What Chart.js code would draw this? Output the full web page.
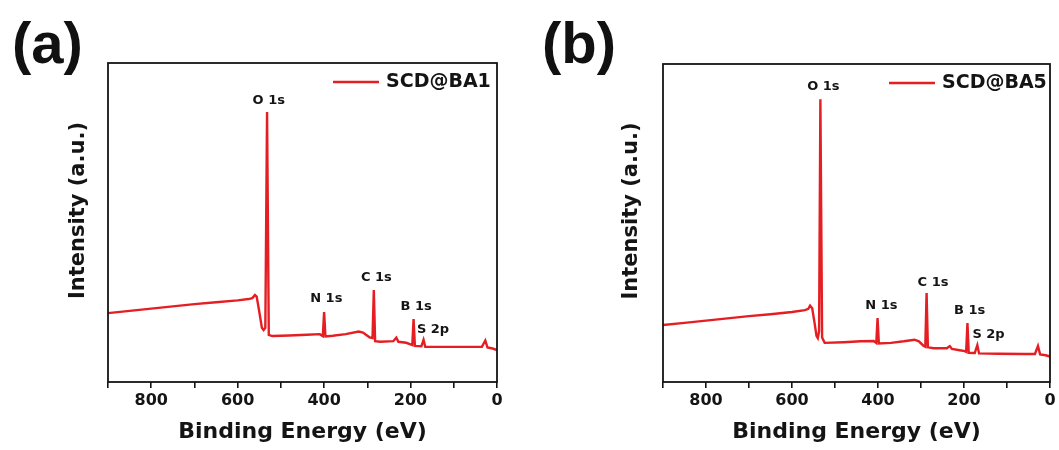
<!DOCTYPE html>
<html>
<head>
<meta charset="utf-8">
<script src="https://cdn.jsdelivr.net/npm/chart.js@4/dist/chart.umd.min.js"></script>
<style>
  html, body { margin: 0; padding: 0; background: #fff; }
  #wrap { position: relative; width: 1059px; height: 450px; }
  canvas { position: absolute; top: 0; }
  #chartA { left: 0; }
  #chartB { left: 530px; }
</style>
</head>
<body>
<div id="wrap">
  <canvas id="chartA" width="530" height="450"></canvas>
  <canvas id="chartB" width="529" height="450"></canvas>
</div>
<script>
// XPS survey spectra (binding energy in eV, intensity in a.u.)
const energyA = [900, 850, 800, 750, 700, 650, 600, 575, 566, 560, 556, 550, 544, 540, 536, 532, 528, 520, 480, 440, 410, 403, 400, 397, 380, 350, 320, 310, 295, 288, 285, 282, 270, 240, 233, 228, 210, 200, 196, 193, 190, 175, 170, 166, 120, 60, 35, 27, 22, 10, 0];
const intensityA = [21.6, 22.3, 23.0, 23.7, 24.4, 25.0, 25.6, 26.0, 26.3, 27.3, 26.8, 22.0, 17.0, 16.3, 17.0, 84.6, 14.8, 14.4, 14.6, 14.8, 15.0, 14.4, 21.9, 14.3, 14.5, 15.0, 15.8, 15.5, 14.0, 13.8, 28.8, 12.8, 12.6, 12.8, 13.9, 12.6, 12.3, 11.8, 11.6, 19.7, 11.3, 11.2, 13.2, 11.0, 11.0, 11.0, 11.0, 13.0, 10.8, 10.5, 10.0];

const energyB = [900, 850, 800, 750, 700, 650, 600, 570, 562, 558, 553, 548, 543, 540, 537, 534, 530, 524, 480, 440, 410, 404, 401, 398, 370, 340, 315, 305, 295, 290, 287, 284, 270, 240, 233, 228, 210, 198, 195, 192, 189, 175, 169, 165, 120, 60, 35, 28, 23, 10, 0];
const intensityB = [17.9, 18.6, 19.3, 20.0, 20.7, 21.3, 22.0, 22.6, 23.0, 24.0, 23.2, 19.0, 14.5, 13.8, 16.0, 88.9, 14.0, 12.3, 12.5, 12.8, 12.9, 12.3, 20.1, 12.1, 12.3, 12.8, 13.3, 12.8, 11.5, 11.1, 28.0, 10.9, 10.6, 10.6, 11.3, 10.4, 10.0, 9.7, 9.5, 18.5, 9.2, 9.1, 11.6, 9.0, 8.9, 8.8, 8.8, 11.3, 8.7, 8.4, 8.0];

// peak labels: name, label energy, label height
const peakNames = ['O 1s', 'N 1s', 'C 1s', 'B 1s', 'S 2p'];
const peakLabelEnergyA = [528, 395, 279, 187, 148];
const peakLabelHeightA = [88.1, 26.0, 32.6, 23.5, 16.5];
const peakLabelEnergyB = [527, 392, 272, 187, 143];
const peakLabelHeightB = [92.9, 24.0, 31.4, 22.4, 14.8];

const xTicks = [0, 100, 200, 300, 400, 500, 600, 700, 800, 900];

const RED = '#e41e22';
const INK = '#141414';
const FONT = '"DejaVu Sans", sans-serif';

const panelDecor = {
  id: 'panelDecor',
  afterDraw(chart, args, o) {
    const { ctx, chartArea: a } = chart;
    const x = chart.scales.x, y = chart.scales.y;
    ctx.save();

    // frame
    ctx.strokeStyle = INK;
    ctx.lineWidth = 1.8;
    ctx.strokeRect(a.left, a.top, a.right - a.left, a.bottom - a.top);

    // peak labels
    ctx.fillStyle = INK;
    ctx.font = 'bold 13px ' + FONT;
    ctx.textAlign = 'center';
    ctx.textBaseline = 'middle';
    peakNames.forEach((name, i) => {
      ctx.fillText(name, x.getPixelForValue(o.labelE[i]), y.getPixelForValue(o.labelH[i]));
    });

    // legend
    ctx.strokeStyle = RED;
    ctx.lineWidth = 2.4;
    ctx.beginPath();
    ctx.moveTo(a.left + o.legendX, a.top + 19);
    ctx.lineTo(a.left + o.legendX + 46, a.top + 19);
    ctx.stroke();
    ctx.font = 'bold 19px ' + FONT;
    ctx.textAlign = 'left';
    ctx.fillText(o.name, a.left + o.legendX + 53, a.top + 19);

    // y title
    ctx.save();
    ctx.translate(o.yTitleX, (a.top + a.bottom) / 2 - 12);
    ctx.rotate(-Math.PI / 2);
    ctx.textAlign = 'center';
    ctx.font = 'bold 21px ' + FONT;
    ctx.fillText('Intensity (a.u.)', 0, 0);
    ctx.restore();

    // panel letter
    ctx.font = 'bold 58px "Liberation Sans", Arial, sans-serif';
    ctx.textAlign = 'left';
    ctx.textBaseline = 'alphabetic';
    ctx.fillStyle = '#111';
    ctx.fillText(o.letter, 12, 63);

    ctx.restore();
  }
};

function makePanel(id, name, energy, intensity, decor, pad) {
  return new Chart(document.getElementById(id), {
    type: 'line',
    data: {
      datasets: [{
        label: name,
        data: energy.map((e, i) => ({ x: e, y: intensity[i] })),
        borderColor: RED,
        borderWidth: 2.4,
        pointRadius: 0,
        tension: 0,
        fill: false
      }]
    },
    options: {
      responsive: false,
      animation: false,
      layout: { padding: pad },
      plugins: {
        legend: { display: false },
        tooltip: { enabled: false },
        panelDecor: decor
      },
      scales: {
        x: {
          type: 'linear',
          reverse: true,
          min: 0,
          max: 900,
          afterFit: s => { s.height = 68; },
          afterBuildTicks: s => { s.ticks = xTicks.map(v => ({ value: v })); },
          border: { display: false },
          grid: { drawOnChartArea: false, drawTicks: true, tickLength: 6, lineWidth: 1.6, color: INK },
          ticks: {
            autoSkip: false,
            maxRotation: 0,
            padding: 3,
            color: INK,
            font: { family: FONT, weight: 'bold', size: 16 },
            callback: v => (v % 200 === 0 ? String(v) : '')
          },
          title: {
            display: true,
            text: 'Binding Energy (eV)',
            color: INK,
            font: { family: FONT, weight: 'bold', size: 22 },
            padding: { top: 0, bottom: 5 }
          }
        },
        y: { display: false, min: 0, max: 100 }
      }
    },
    plugins: [panelDecor]
  });
}

makePanel('chartA', 'SCD@BA1', energyA, intensityA,
  { name: 'SCD@BA1', letter: '(a)', labelE: peakLabelEnergyA, labelH: peakLabelHeightA, legendX: 225, yTitleX: 79 },
  { left: 108, right: 33, top: 63, bottom: 0 });

makePanel('chartB', 'SCD@BA5', energyB, intensityB,
  { name: 'SCD@BA5', letter: '(b)', labelE: peakLabelEnergyB, labelH: peakLabelHeightB, legendX: 226, yTitleX: 102 },
  { left: 133, right: 9, top: 64, bottom: 0 });
</script>
</body>
</html>
